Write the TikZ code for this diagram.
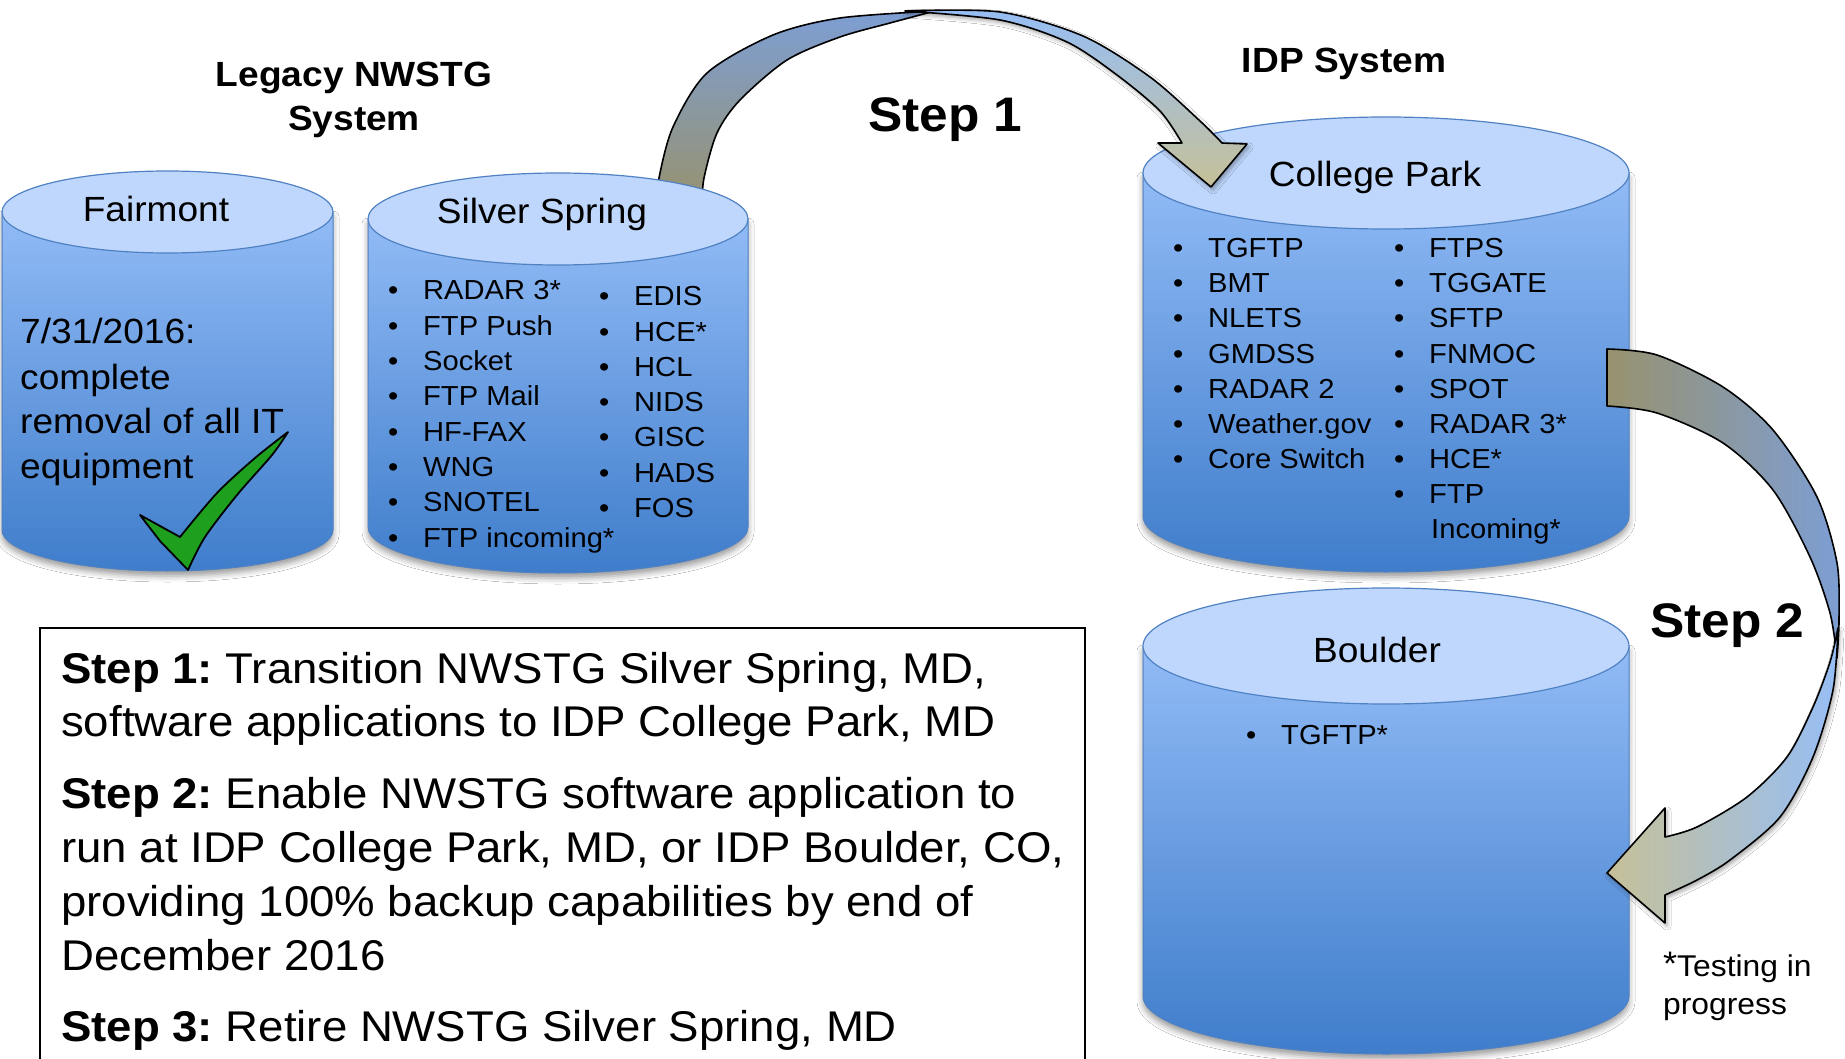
\documentclass[tikz,border=0pt]{standalone}
\usepackage{fontspec}
\setmainfont{Liberation Sans}[FakeStretch=1.06]
\usetikzlibrary{shadows.blur}
\frenchspacing
\definecolor{cyltopc}{RGB}{191,215,252}
\definecolor{cyledge}{RGB}{80,130,195}
\definecolor{bodytop}{RGB}{145,187,246}
\definecolor{bodybot}{RGB}{63,125,203}
\definecolor{arblue}{RGB}{150,190,245}
\definecolor{arkhaki}{RGB}{198,192,152}
\definecolor{arbackblue}{RGB}{125,158,212}
\definecolor{arbackolive}{RGB}{152,146,110}
\definecolor{checkgreen}{RGB}{30,160,30}
\newcommand\drawcyl[6]{%
  \pgfmathsetmacro\cxc{(#1+#2)/2}%
  \pgfmathsetmacro\crx{(#2-#1)/2}%
  \pgfmathsetmacro\ck{0.5523*\crx}%
  \pgfmathsetmacro\cky{0.5523*#5}%
  \path[cylbody] (#1,#3) -- (#1,#4) .. controls (#1,#4+\cky) and (\cxc-\ck,#4+#5) .. (\cxc,#4+#5) .. controls (\cxc+\ck,#4+#5) and (#2,#4+\cky) .. (#2,#4) -- (#2,#3) -- cycle;
  \path[cyltop] (\cxc,#3) ellipse [x radius=\crx, y radius=#5];
  \coordinate (#6) at (\cxc,#3);
}
\tikzset{
  cylbody/.style={draw=cyledge, line width=1pt, top color=bodytop, bottom color=bodybot,
    blur shadow={shadow xshift=0pt, shadow yshift=-5pt, shadow blur radius=6pt, shadow opacity=40}},
  cyltop/.style={draw=cyledge, line width=1.2pt, fill=cyltopc},
  lbl/.style={inner sep=0pt, font=\fontsize{35}{42}\selectfont},
  ttl/.style={inner sep=0pt, font=\bfseries\fontsize{35}{42}\selectfont},
  stepbig/.style={inner sep=0pt, anchor=base west, font=\bfseries\fontsize{48.5}{56}\selectfont},
  item/.style={inner sep=0pt, anchor=base west, font=\fontsize{27.5}{33}\selectfont},
  boxtxt/.style={inner sep=0pt, anchor=base west, font=\fontsize{43}{50}\selectfont},
  note/.style={inner sep=0pt, anchor=base west, font=\fontsize{30}{36}\selectfont},
  arrowedge/.style={draw=black, line width=1.6pt, line join=round},
  backvert/.style={arrowedge, top color=arbackblue, bottom color=arbackolive},
  frontvert/.style={arrowedge, top color=arblue, bottom color=arkhaki,
    blur shadow={shadow xshift=2pt, shadow yshift=-3pt, shadow blur radius=4pt, shadow opacity=35}},
  backhor/.style={arrowedge, left color=arbackolive, right color=arbackblue},
  fronthor/.style={arrowedge, left color=arkhaki, right color=arblue,
    blur shadow={shadow xshift=2pt, shadow yshift=-3pt, shadow blur radius=4pt, shadow opacity=35}},
  check/.style={draw=black, line width=1.8pt, line join=round, fill=checkgreen},
}
\newcommand\bul{\makebox[35pt][l]{\textbullet}}
\begin{document}
\begin{tikzpicture}[x=1pt,y=-1pt]
\useasboundingbox (0,0) rectangle (1845,1059);
\fill[white] (0,0) rectangle (1845,1059);

% cylinders (Silver Spring drawn later, over the Step 1 arrow foot)
\drawcyl{2}{333}{212}{530}{41}{fair}
\drawcyl{1143}{1629}{173}{516}{56}{cp}
\drawcyl{1143}{1629}{646}{996}{58}{bou}

% Step 1 arrow
\path[backvert] plot[smooth] coordinates {(657,205) (659,178) (673,127) (707,73) (773,35) (840,18) (935,11)}
  -- plot[smooth] coordinates {(935,11) (890,23) (840,37) (787,60) (740,100) (717,133) (704,178) (702,205)} -- cycle;
\path[frontvert] plot[smooth] coordinates {(905,11) (1000,12) (1083,36) (1150,77) (1200,121) (1222,143)}
  -- (1247,144) -- (1211,187) -- (1158,143) -- (1182,143)
  -- plot[smooth] coordinates {(1182,143) (1160,111) (1117,75) (1067,42) (1000,20) (905,11)} -- cycle;

% Step 2 arrow
\path[backhor] plot[smooth] coordinates {(1607,349) (1657,355) (1723,387) (1773,430) (1817,497) (1837,563) (1839,620) (1837,658)}
  -- plot[smooth] coordinates {(1837,658) (1830,613) (1810,557) (1773,490) (1723,443) (1657,413) (1607,406)} -- cycle;
\path[fronthor] plot[smooth] coordinates {(1838,628) (1833,690) (1813,757) (1780,817) (1730,860) (1697,880) (1665,895)}
  -- (1665,923) -- (1607,873) -- (1665,808) -- (1665,837)
  -- plot[smooth] coordinates {(1665,837) (1697,827) (1747,797) (1787,757) (1813,707) (1830,662) (1838,628)} -- cycle;

\drawcyl{368}{748}{219}{527}{46}{ss}

% titles
\node[ttl, anchor=base] (leg1) at (354,87) {Legacy NWSTG};
\node[ttl, anchor=base] (leg2) at (354,131) {System};
\node[ttl, anchor=base] (idp) at (1344,73) {IDP System};
\node[stepbig] (step1) at (868,132) {Step 1};
\node[stepbig] (step2) at (1650,637) {Step 2};

% cylinder labels
\node[lbl, anchor=base] (fairl) at (156,222) {Fairmont};
\node[lbl, anchor=base] (ssl) at (542,224) {Silver Spring};
\node[lbl, anchor=base] (cpl) at (1375,187) {College Park};
\node[lbl, anchor=base] (boul) at (1377,662) {Boulder};

% Fairmont text
\node[lbl, anchor=base west] (f1) at (20,344) {7/31/2016:};
\node[lbl, anchor=base west] (f2) at (20,389) {complete};
\node[lbl, anchor=base west] (f3) at (20,433) {removal of all IT};
\node[lbl, anchor=base west] (f4) at (20,478) {equipment};

% check mark
\path[check] (140,515) -- plot[smooth] coordinates {(180,537) (217,493) (255,458) (288,432)}
  -- plot[smooth] coordinates {(288,432) (272,455) (237,495) (205,537) (188,570)} -- (160,541) -- cycle;

% Silver Spring lists
\foreach \t [count=\i] in {RADAR 3*, FTP Push, Socket, FTP Mail, HF-FAX, WNG, SNOTEL, FTP incoming*}
  \node[item] (ssa\i) at (388,{300+35.3*(\i-1)}) {\bul\t};
\foreach \t [count=\i] in {EDIS, HCE*, HCL, NIDS, GISC, HADS, FOS}
  \node[item] (ssb\i) at (599,{306+35.2*(\i-1)}) {\bul\t};

% College Park lists
\foreach \t [count=\i] in {TGFTP, BMT, NLETS, GMDSS, RADAR 2, Weather.gov, Core Switch}
  \node[item] (cpa\i) at (1173,{258+35*(\i-1)}) {\bul\t};
\foreach \t [count=\i] in {FTPS, TGGATE, SFTP, FNMOC, SPOT, RADAR 3*, HCE*, FTP}
  \node[item] (cpb\i) at (1394,{258+35*(\i-1)}) {\bul\t};
\node[item] (cpb9) at (1431,538) {Incoming*};

% Boulder list
\node[item] (bou1) at (1246,744) {\bul TGFTP*};

% note
\node[note] (n1) at (1663,976) {\raisebox{1pt}{\fontsize{34}{36}\selectfont*}Testing in};
\node[note] (n2) at (1663,1014) {progress};

% step box
\draw[line width=1.6pt] (40,1080) -- (40,628) -- (1085,628) -- (1085,1080);
\node[boxtxt] (b1) at (61,683) {\textbf{Step 1:} Transition NWSTG Silver Spring, MD,};
\node[boxtxt] (b2) at (61,736) {software applications to IDP College Park, MD};
\node[boxtxt] (b3) at (61,808) {\textbf{Step 2:} Enable NWSTG software application to};
\node[boxtxt] (b4) at (61,862) {run at IDP College Park, MD, or IDP Boulder, CO,};
\node[boxtxt] (b5) at (61,916) {providing 100\% backup capabilities by end of};
\node[boxtxt] (b6) at (61,970) {December 2016};
\node[boxtxt] (b7) at (61,1041) {\textbf{Step 3:} Retire NWSTG Silver Spring, MD};
\end{tikzpicture}
\end{document}
